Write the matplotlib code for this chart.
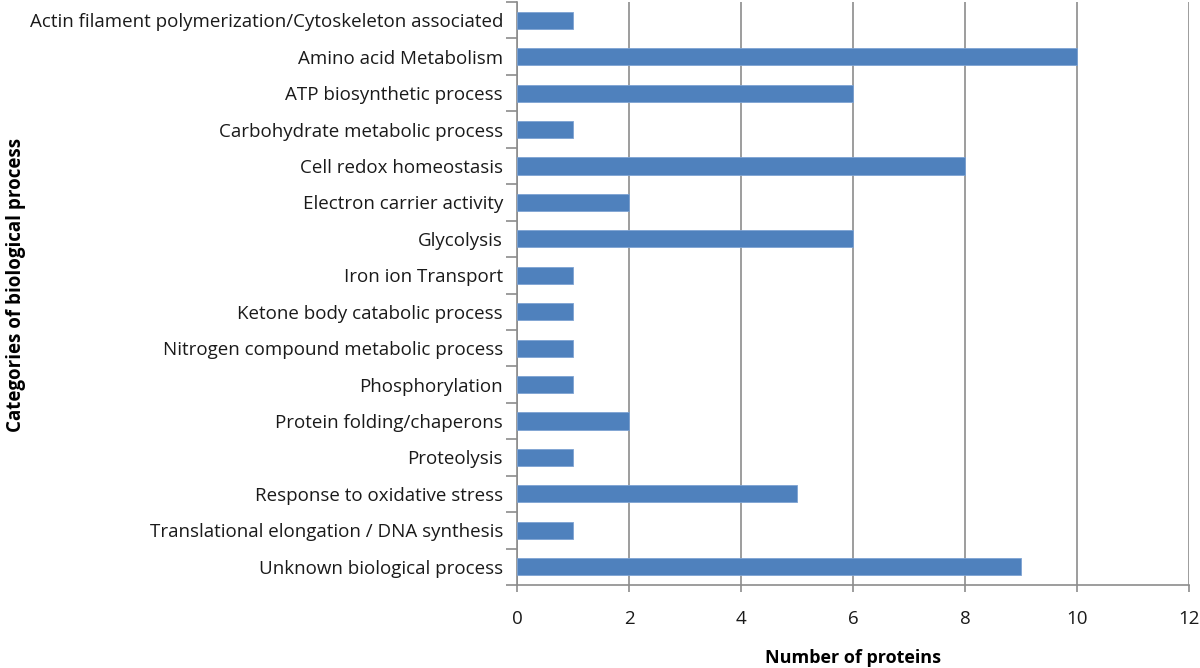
import matplotlib
matplotlib.use("Agg")
from matplotlib import pyplot as plt
import numpy as np

categories = [
    "Actin filament polymerization/Cytoskeleton associated",
    "Amino acid Metabolism",
    "ATP biosynthetic process",
    "Carbohydrate metabolic process",
    "Cell redox homeostasis",
    "Electron carrier activity",
    "Glycolysis",
    "Iron ion Transport",
    "Ketone body catabolic process",
    "Nitrogen compound metabolic process",
    "Phosphorylation",
    "Protein folding/chaperons",
    "Proteolysis",
    "Response to oxidative stress",
    "Translational elongation / DNA synthesis",
    "Unknown biological process",
]
counts = [1, 10, 6, 1, 8, 2, 6, 1, 1, 1, 1, 2, 1, 5, 1, 9]
x_ticks = [0, 2, 4, 6, 8, 10, 12]

GRID = "#8c8c8c"
BAR = "#4f81bd"

plt.rcParams["font.family"] = ["Open Sans", "DejaVu Sans"]

fig = plt.figure(figsize=(12, 6.68), dpi=100)
ax = fig.add_axes([517 / 1200, 83 / 668, 672 / 1200, 583 / 668])

pos = np.arange(len(categories))
ax.barh(pos, counts, height=0.47, color=BAR, edgecolor="#7ea3d3", linewidth=0.6, zorder=3)
ax.set_ylim(len(categories) - 0.5, -0.5)
ax.set_xlim(0, 12)

# category labels sit between boundary ticks, like the spreadsheet original
ax.set_yticks(pos)
ax.set_yticklabels(categories, fontsize=13.5, color="#1a1a1a")
ax.tick_params(axis="y", which="major", length=0, pad=10)
ax.set_yticks(np.arange(len(categories) + 1) - 0.5, minor=True)
ax.tick_params(axis="y", which="minor", length=8, color=GRID, width=1.2, direction="out")

ax.set_xticks(x_ticks)
ax.set_xticklabels([str(t) for t in x_ticks], fontsize=13.5, color="#1a1a1a")
ax.tick_params(axis="x", length=5, color=GRID, width=1.2, pad=13, direction="out")
ax.grid(axis="x", color=GRID, linewidth=1.2, zorder=0)

for side in ("top", "right"):
    ax.spines[side].set_visible(False)
for side in ("left", "bottom"):
    ax.spines[side].set_color(GRID)
    ax.spines[side].set_linewidth(1.2)

ax.set_xlabel("Number of proteins", fontsize=13, fontweight="bold", labelpad=15)
fig.text(0.013, 1 - 285 / 668, "Categories of biological process", rotation=90,
         fontsize=13.5, fontweight="bold", ha="center", va="center")

fig.savefig("out.png", dpi=100)
